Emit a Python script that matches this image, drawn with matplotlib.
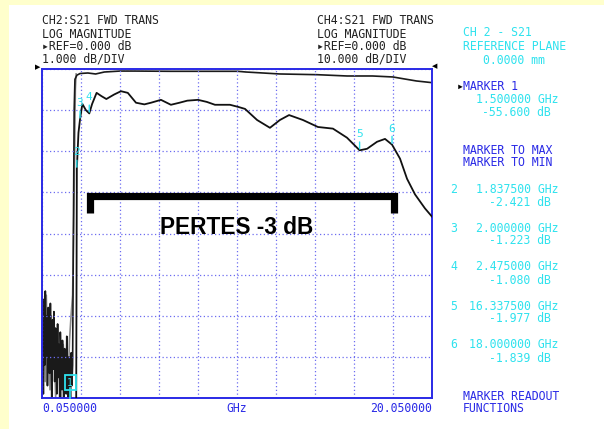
import matplotlib.pyplot as plt
import matplotlib.transforms as mtransforms
from matplotlib.patches import Rectangle

W, H = 604, 429

# CH2 S21 trace, LOG MAG 1 dB/div (GHz, dB)
ch2_freq = [1.50, 1.78, 1.8375, 1.92, 2.00, 2.12, 2.30, 2.475, 2.62, 2.85, 3.10, 3.35,
            3.75, 4.10, 4.45, 4.87, 5.30, 5.64, 6.15, 6.66, 7.10, 7.50, 8.05, 8.50,
            8.92, 9.69, 10.10, 10.46, 11.08, 11.74, 12.25, 12.72, 13.43, 14.20, 14.97,
            15.69, 16.3375, 16.72, 17.23, 17.64, 18.00, 18.41, 18.77, 19.18, 19.69, 20.05]
ch2_db = [-55.6, -12.0, -2.421, -1.55, -1.223, -0.85, -1.00, -1.08, -0.85, -0.58, -0.66, -0.73,
          -0.62, -0.54, -0.58, -0.82, -0.86, -0.82, -0.75, -0.87, -0.82, -0.77, -0.75, -0.80,
          -0.87, -0.87, -0.92, -0.97, -1.24, -1.43, -1.24, -1.12, -1.24, -1.41, -1.45,
          -1.67, -1.977, -1.94, -1.77, -1.70, -1.839, -2.18, -2.67, -3.05, -3.39, -3.59]

# CH4 S21 trace, LOG MAG 10 dB/div
ch4_freq = [0.05, 0.08, 0.12, 0.15, 0.19, 0.22, 0.26, 0.30, 0.33, 0.37, 0.41, 0.44,
            0.48, 0.52, 0.55, 0.59, 0.63, 0.66, 0.70, 0.74, 0.77, 0.81, 0.85, 0.88,
            0.92, 0.96, 0.99, 1.03, 1.07, 1.10, 1.14, 1.18, 1.21, 1.25, 1.29, 1.32,
            1.36, 1.40, 1.43, 1.47, 1.51, 1.55, 1.58, 1.62, 1.66, 1.70, 1.74, 1.84,
            2.00, 2.40, 2.80, 3.25, 4.05, 4.80, 6.66, 8.40, 10.10, 10.50, 12.25, 14.15,
            15.70, 17.00, 18.05, 18.55, 19.25, 20.05]
ch4_db = [-80, -64, -79, -56, -72, -54, -70, -60, -77, -58, -66, -74,
          -57, -69, -80, -61, -73, -59, -76, -63, -70, -79, -62, -75,
          -67, -80, -64, -72, -78, -66, -74, -80, -68, -71, -79, -65,
          -76, -80, -70, -73, -80, -69, -77, -72, -40, -10, -2.5, -1.5,
          -1.1, -0.97, -1.21, -0.73, -0.5, -0.5, -0.56, -0.56, -0.56, -0.73, -1.21, -1.38,
          -1.70, -1.70, -1.94, -2.35, -2.91, -3.32]

# grey memory trace in the low band
mem_freq = [0.05, 0.10, 0.16, 0.21, 0.27, 0.33, 0.40, 0.46, 0.53, 0.60, 0.68, 0.75,
            0.83, 0.90, 0.98, 1.06, 1.14, 1.22, 1.30, 1.38, 1.46, 1.54, 1.62, 1.70,
            1.76, 1.80]
mem_db = [-52, -70, -58, -76, -55, -68, -62, -78, -60, -71, -66, -80,
          -64, -73, -69, -80, -67, -75, -70, -78, -66, -60, -55, -30,
          -5, -1.2]

marker_ids = [1, 2, 3, 4, 5, 6]
marker_freq = [1.5, 1.8375, 2.0, 2.475, 16.3375, 18.0]
marker_db = [-55.6, -2.421, -1.223, -1.080, -1.977, -1.839]

start_ghz, stop_ghz = 0.05, 20.05
pertes_freq = [2.51, 18.1]

BLUE = "#2a2ae6"
CYAN = "#2ee2ee"
GRID = "#6c6cf0"
INK = "#222222"
MONO = ["DejaVu Sans Mono", "DejaVu Sans"]


def px(x, y):
    """pixel position in the 604x429 picture -> figure fraction"""
    return x / W, 1 - y / H


def mono(x, y, s, color=INK, ha="left", size=8.3):
    fx, fy = px(x, y)
    fig.text(fx, fy, s, color=color, ha=ha, va="center", fontsize=size, family=MONO)


fig = plt.figure(figsize=(W / 100, H / 100), dpi=100)
fig.patch.set_facecolor("white")
fig.patches.append(Rectangle((0, 0), 9 / W, 1, transform=fig.transFigure,
                             facecolor="#ffffcc", edgecolor="none"))
fig.patches.append(Rectangle((0, 1 - 5 / H), 1, 5 / H, transform=fig.transFigure,
                             facecolor="#ffffcc", edgecolor="none"))

ax = fig.add_axes([42 / W, (H - 398) / H, 390 / W, 329 / H])
ax.set_xlim(start_ghz, stop_ghz)
ax.set_ylim(-8, 0)
ax.set_xticks([start_ghz + 2 * k for k in range(11)])
ax.set_yticks(range(-8, 1))
ax.tick_params(length=0, labelbottom=False, labelleft=False)
ax.grid(True, color=GRID, linestyle=(0, (1, 2)), linewidth=0.9)
for sp in ax.spines.values():
    sp.set_color(BLUE)
    sp.set_linewidth(1.4)

# CH4 on its own 10 dB/div scale, drawn underneath the CH2 axes
ax4 = ax.twinx()
ax4.set_ylim(-80, 0)
ax4.set_axis_off()
ax4.plot(mem_freq, mem_db, color="#8a8a8a", lw=1.2)
ax4.plot(ch4_freq, ch4_db, color="#1a1a1a", lw=1.2)
ax.set_zorder(ax4.get_zorder() + 1)
ax.patch.set_visible(False)
ax4.patch.set_visible(True)
ax4.patch.set_facecolor("white")

ax.plot(ch2_freq, ch2_db, color="#111111", lw=1.3, zorder=3)

# markers
for mid, f, d in zip(marker_ids, marker_freq, marker_db):
    if mid == 1:
        continue
    ax.annotate(str(mid), xy=(f, d), xytext=(0, 8), textcoords="offset points",
                ha="center", va="bottom", color=CYAN, fontsize=8, family=MONO, zorder=5,
                arrowprops=dict(arrowstyle="-", color=CYAN, lw=1.0, shrinkA=0, shrinkB=1))

blend = mtransforms.blended_transform_factory(ax.transData, ax.transAxes)
ax.plot([marker_freq[0]] * 2, [0, 0.03], transform=blend, color=CYAN, lw=1.2,
        clip_on=False, zorder=5)
ax.text(marker_freq[0], 0.047, "1", transform=blend, ha="center", va="center",
        color=CYAN, fontsize=7, family=MONO, zorder=5,
        bbox=dict(boxstyle="square,pad=0.25", fc="none", ec=CYAN, lw=1.3))

# -3 dB bracket
ax.plot([pertes_freq[0], pertes_freq[0], pertes_freq[1], pertes_freq[1]],
        [-3.49, -3.10, -3.10, -3.49], color="black", lw=5.2,
        solid_joinstyle="miter", solid_capstyle="butt", zorder=4)
ax.text(0.5, 0.517, "PERTES -3 dB", transform=ax.transAxes, ha="center", va="center",
        fontsize=16.3, fontweight="bold", family="Liberation Sans", color="black")

# reference arrows at the graticule edges
fx, fy = px(38, 67)
fig.text(fx, fy, "▶", fontsize=5, ha="center", va="center", color="black")
fx, fy = px(435, 66)
fig.text(fx, fy, "◀", fontsize=5, ha="center", va="center", color="black")

# channel headers
mono(42, 21, "CH2:S21 FWD TRANS")
mono(42, 34, "LOG MAGNITUDE")
mono(42, 46.5, "▸REF=0.000 dB")
mono(42, 59, "1.000 dB/DIV")
mono(317, 21, "CH4:S21 FWD TRANS")
mono(317, 34, "LOG MAGNITUDE")
mono(317, 46.5, "▸REF=0.000 dB")
mono(317, 59, "10.000 dB/DIV")

# frequency axis
mono(42, 409, f"{start_ghz:.6f}", color=BLUE)
mono(237, 409, "GHz", color=BLUE, ha="center")
mono(432, 409, f"{stop_ghz:.6f}", color=BLUE, ha="right")

# softkey / readout panel
mono(463, 33, "CH 2 - S21", color=CYAN)
mono(463, 46, "REFERENCE PLANE", color=CYAN)
mono(483, 60, "0.0000 mm", color=CYAN)

mono(457, 86, "▸", color="black")
mono(463, 86, f"MARKER {marker_ids[0]}", color=BLUE)
mono(558, 99, f"{marker_freq[0]:.6f} GHz", color=CYAN, ha="right")
mono(551, 112, f"{marker_db[0]:.3f} dB", color=CYAN, ha="right")
mono(463, 151, "MARKER TO MAX", color=BLUE)
mono(463, 163, "MARKER TO MIN", color=BLUE)

row_y = [189, 228, 267, 306, 345]
for y, mid, f, d in zip(row_y, marker_ids[1:], marker_freq[1:], marker_db[1:]):
    mono(450, y, str(mid), color=CYAN)
    mono(558, y, f"{f:.6f} GHz", color=CYAN, ha="right")
    mono(551, y + 13, f"{d:.3f} dB", color=CYAN, ha="right")

mono(463, 396, "MARKER READOUT", color=BLUE)
mono(463, 409, "FUNCTIONS", color=BLUE)

fig.savefig("out.png", dpi=100)
